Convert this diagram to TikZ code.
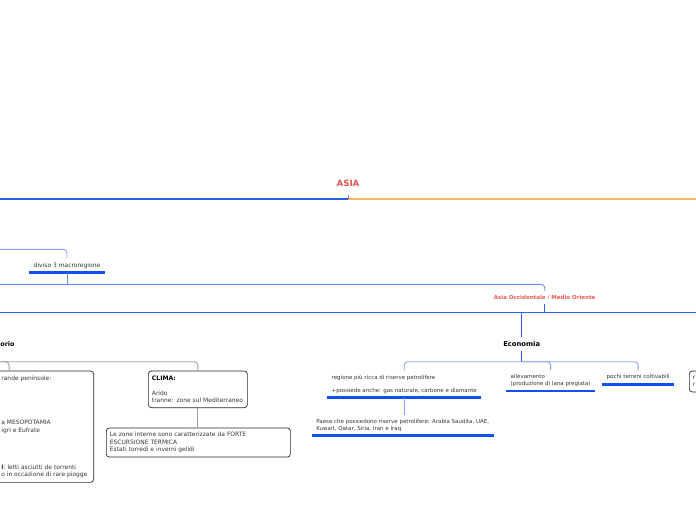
\documentclass[tikz,border=0pt]{standalone}
\usepackage{fontspec}
\setmainfont{DejaVu Sans}
\usetikzlibrary{positioning}
\definecolor{rootred}{RGB}{232,84,76}
\definecolor{occred}{RGB}{232,92,82}
\definecolor{rootblue}{RGB}{36,96,236}
\definecolor{rootorange}{RGB}{252,184,90}
\definecolor{mainblue}{RGB}{44,100,240}
\definecolor{linkblue}{RGB}{132,162,246}
\definecolor{midblue}{RGB}{104,140,246}
\definecolor{ublue}{RGB}{12,82,240}
\definecolor{linkgray}{RGB}{160,160,160}
\definecolor{textgray}{RGB}{52,52,52}
\definecolor{boxgray}{RGB}{40,40,40}
\tikzset{
	txt/.style={font=\fontsize{5.95}{7.3}\selectfont, text=textgray, align=left, inner sep=0pt},
	topic/.style={txt, font=\fontsize{5.5}{7}\selectfont, inner xsep=4.5pt, inner ysep=4pt, text depth=1.5pt, anchor=south west},
	uline/.style={draw=ublue, line width=2.6pt},
	link/.style={draw=linkblue, line width=0.9pt, rounded corners=3.5pt},
	glink/.style={draw=linkgray, line width=0.9pt, rounded corners=3.5pt},
	card/.style={txt, draw=boxgray, line width=0.7pt, rounded corners=3pt, inner xsep=3.6pt, inner ysep=0pt, anchor=north west},
	headbold/.style={font=\bfseries\fontsize{6.8}{8}\selectfont, inner sep=0pt},
}
\begin{document}
\begin{tikzpicture}[x=1pt, y=-1pt]
		%%%%% START %%%%%
		\useasboundingbox (0,0) rectangle (696,520);
		\clip (0,0) rectangle (696,520);
		
		% radice
		\node (asia) [font=\bfseries\fontsize{8.6}{10}\selectfont, text=rootred, inner sep=0pt] at (348,183.3) {ASIA};
		\coordinate (asiaL) at (0,199);
		\coordinate (asiaM) at (348,199);
		\coordinate (asiaR) at (696,199);
		\draw[rootblue, line width=1.7pt] (asiaL) -- (asiaM);
		\draw[rootorange, line width=1.5pt] (asiaM) -- (asiaR);
		\draw[gray, line width=0.9pt] (asiaM) -- ++(0,-3.6);
		
		% macroregioni
		\node (diviso) [topic, font=\fontsize{6}{7}\selectfont] at (29,272.7) {diviso 3 macroregione};
		\draw[uline] (diviso.south west) -- (diviso.south east);
		\coordinate (divisoin) at (0,249.3);
		\draw[link] (divisoin) -| (diviso.north);
		
		\node (occ) [font=\bfseries\fontsize{5.5}{7}\selectfont, text=occred, inner sep=0pt, minimum height=12pt] at (544.7,297.3) {Asia Occidentale / Medio Oriente};
		\coordinate (occin) at (0,284.3);
		\draw[midblue, line width=0.9pt] (diviso.south) -- (diviso.south |- occin);
		\draw[link, draw=midblue] (occin) -| (occ.north);
		\coordinate (occL) at (0,312.7);
		\coordinate (occR) at (696,312.7);
		\draw[mainblue, line width=1.5pt] (occL) -- (occR);
		\draw[mainblue, line width=1.2pt] (occ.south) -- (occ.south |- occL);
		
		% territorio
		\node (terrhead) [headbold, font=\bfseries\fontsize{6.4}{8}\selectfont, text=black, anchor=west] at (0.2,344) {orio};
		\coordinate (terrfork) at (0,361.7);
		\node (terr) [card, minimum width=169.2pt, minimum height=111.3pt] at (-75.9,370.7) {};
		\node (terrtxt) [txt, anchor=north west] at (1.2,376.2) {rande peninsole:\\[36.7pt]
			a MESOPOTAMIA\\
			igri e Eufrate\\[29.7pt]
			\textbf{I}: letti asciutti de torrenti\\
			o in occazione di rare piogge};
		\node (clima) [card, minimum width=99pt, minimum height=36.6pt, text width=91.8pt] at (148,370.7) {{\color{black}\bfseries\fontsize{6.1}{7.4}\selectfont CLIMA:}\\[7.6pt]
			Arido\\
			tranne: zone sul Mediterraneo};
		\draw[glink] (terrfork) -| (terr.north);
		\draw[glink] (terrfork) -| (clima.north);
		\node (hot) [card, minimum width=184pt, minimum height=29pt, text width=176.8pt] at (106,427.7) {Le zone interne sono caratterizzate da FORTE\\
			ESCURSIONE TERMICA\\
			Estati torredi e inverni gelidi};
		\draw[glink] (clima.south) -- (clima.south |- hot.north);
		
		% economia
		\node (econ) [headbold, text=black, minimum height=14pt] at (521.7,344) {Economia};
		\draw[mainblue, line width=1.2pt] (econ.north |- occL) -- (econ.north);
		\coordinate (econfork) at (521.7,361.7);
		\draw[mainblue, line width=1.2pt] (econ.south) -- (econfork);
		
		\node (petrolio) [topic] at (327,397.7) {regione più ricca di riserve petrolifere\\[6pt]
			+possiede anche: gas naturale, carbone e diamante};
		\node (lana) [topic] at (506,391) {allevamento\\
			(produzione di lana pregiata)};
		\node (terreni) [topic] at (602,384.3) {pochi terreni coltivabili};
		\foreach \n in {petrolio,lana,terreni}{
			\draw[uline] (\n.south west) -- (\n.south east);
			\draw[link] (econfork) -| (\n.north);
		}
		
		\node (paesi) [topic] at (311.7,435.7) {Paese che possiedono riserve petrolifere: Arabia Saudita, UAE,\\
			Kuwait, Qatar, Siria, Iran e Iraq};
		\draw[uline] (paesi.south west) -- (paesi.south east);
		\draw[link] (petrolio.south) -- (petrolio.south |- paesi.north);
		
		\node (rbox) [card, minimum width=60pt, minimum height=21pt, text width=52.8pt] at (689,370.7) {r\\r};
		%%%%% END %%%%%
	\end{tikzpicture}
\end{document}
